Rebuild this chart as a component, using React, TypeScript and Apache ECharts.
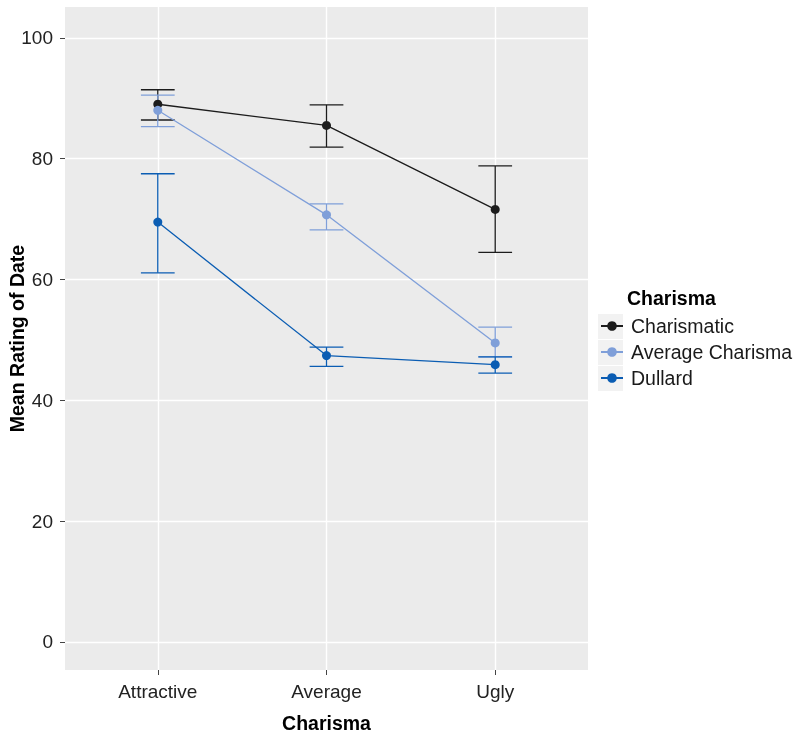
import React, { useEffect, useRef } from "react";
import * as echarts from "echarts";

const categories = ["Attractive", "Average", "Ugly"];
const groups = ["Charismatic", "Average Charisma", "Dullard"];
const colors = ["#1c1c1c", "#7f9fd9", "#0b5db3"];
const means = [
  [89.0, 85.5, 71.6],
  [88.0, 70.7, 49.5],
  [69.5, 47.4, 45.9],
];
const upper = [
  [91.4, 88.9, 78.8],
  [90.5, 72.5, 52.1],
  [77.5, 48.8, 47.2],
];
const lower = [
  [86.4, 81.9, 64.5],
  [85.3, 68.2, 47.2],
  [61.1, 45.6, 44.5],
];
const yTicks = [0, 20, 40, 60, 80, 100];
const xTicks = [1, 2, 3];

const FONT = "Liberation Sans, Arial, Helvetica, sans-serif";

export default function App() {
  const ref = useRef<HTMLDivElement>(null);
  useEffect(() => {
    const chart = echarts.init(ref.current!, null, { renderer: "svg" });
    const lineSeries = groups.map((g, gi) => ({
      name: g,
      type: "line",
      data: means[gi].map((v, i) => [i + 1, v]),
      symbol: "circle",
      symbolSize: 9,
      lineStyle: { color: colors[gi], width: 1.3 },
      itemStyle: { color: colors[gi] },
      z: 3,
    }));
    const errSeries = groups.map((g, gi) => ({
      name: g + " error",
      type: "custom",
      data: upper[gi].map((u, i) => [i + 1, lower[gi][i], u]),
      encode: { x: 0, y: [1, 2] },
      itemStyle: { color: colors[gi] },
      z: 2,
      renderItem: (params: any, api: any) => {
        const x = api.value(0);
        const lo = api.coord([x, api.value(1)]);
        const hi = api.coord([x, api.value(2)]);
        const l = api.coord([x - 0.1, api.value(1)]);
        const r = api.coord([x + 0.1, api.value(1)]);
        const style = { stroke: colors[gi], lineWidth: 1.3, fill: "none" };
        return {
          type: "group",
          children: [
            { type: "line", shape: { x1: lo[0], y1: lo[1], x2: hi[0], y2: hi[1] }, style },
            { type: "line", shape: { x1: l[0], y1: lo[1], x2: r[0], y2: lo[1] }, style },
            { type: "line", shape: { x1: l[0], y1: hi[1], x2: r[0], y2: hi[1] }, style },
          ],
        };
      },
    }));
    chart.setOption({
      animation: false,
      textStyle: { fontFamily: FONT },
      grid: {
        left: 65,
        top: 7,
        width: 523,
        height: 663,
        show: true,
        backgroundColor: "#EBEBEB",
        borderWidth: 0,
        containLabel: false,
        outerBoundsMode: "none",
      },
      xAxis: {
        type: "value",
        min: 0.45,
        max: 3.55,
        name: "Charisma",
        nameLocation: "middle",
        nameGap: 43,
        nameMoveOverlap: false,
        nameTextStyle: { fontSize: 19.5, fontWeight: "bold", color: "#000", fontFamily: FONT },
        axisLine: { show: false, onZero: false },
        axisTick: { show: true, customValues: xTicks, length: 5, lineStyle: { color: "#444" } },
        axisLabel: {
          customValues: xTicks,
          fontSize: 19,
          color: "#222",
          margin: 12,
          fontFamily: FONT,
          formatter: (v: number) => categories[Math.round(v) - 1] ?? "",
        },
        splitLine: { show: true, lineStyle: { color: "#ffffff", width: 1.4 } },
      },
      yAxis: {
        type: "value",
        min: -4.64,
        max: 105.1,
        name: "Mean Rating of Date",
        nameLocation: "middle",
        nameGap: 38,
        nameMoveOverlap: false,
        nameTextStyle: { fontSize: 19.5, fontWeight: "bold", color: "#000", fontFamily: FONT },
        axisLine: { show: false, onZero: false },
        axisTick: { show: true, customValues: yTicks, length: 5, lineStyle: { color: "#444" } },
        axisLabel: { customValues: yTicks, fontSize: 19, color: "#222", margin: 12, fontFamily: FONT },
        splitLine: { show: true, lineStyle: { color: "#ffffff", width: 1.4 } },
      },
      legend: {
        data: groups,
        orient: "vertical",
        left: 600,
        top: 316,
        padding: 0,
        itemWidth: 22,
        itemHeight: 12,
        itemGap: 6,
        textStyle: { fontSize: 19.5, color: "#1a1a1a", fontFamily: FONT, padding: [0, 0, 0, 3] },
        z: 10,
      },
      graphic: [
        ...[314, 340, 366].map((y) => ({
          type: "rect",
          shape: { x: 598, y, width: 25, height: 25 },
          style: { fill: "#F2F2F2" },
          z: 0,
          silent: true,
        })),
        {
          type: "text",
          x: 627,
          y: 298,
          style: {
            text: "Charisma",
            fontSize: 19.5,
            fontWeight: "bold",
            fill: "#000",
            fontFamily: FONT,
            textAlign: "left",
            textVerticalAlign: "middle",
          },
        },
      ],
      series: [...errSeries, ...lineSeries],
    });
    return () => chart.dispose();
  }, []);
  return (
    <div
      ref={ref}
      style={{ position: "fixed", left: 0, top: 0, width: 794, height: 735 }}
    />
  );
}
